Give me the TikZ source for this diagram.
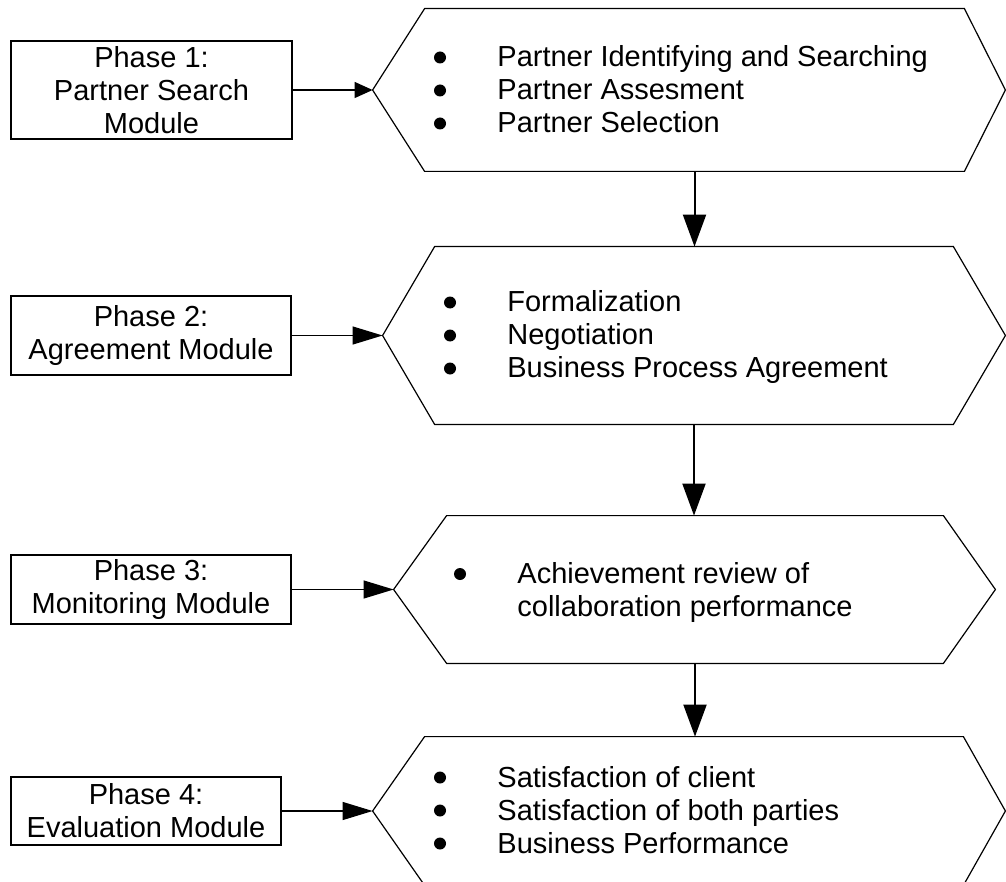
\documentclass[tikz,border=0pt]{standalone}
\usepackage{fontspec}
\setmainfont{Liberation Sans}
\usetikzlibrary{arrows.meta,calc}

% outline of a process hexagon around a body node: #1 body, #2 left tip, #3 right tip inset
\newcommand\hexoutline[3]{%
  \draw[hexline] (#1.north west) -- (#1.north east) -- ($(#1.east)+(#3,0)$)
    -- (#1.south east) -- (#1.south west) -- (#2) -- cycle;}

\begin{document}
\begin{tikzpicture}[x=0.5pt,y=-0.5pt,
  every node/.style={font=\fontsize{14.5}{16.5}\selectfont, inner sep=0pt, text=black},
  phase/.style={draw, line width=0.6pt, rectangle, align=center},
  hexbody/.style={rectangle, draw=none},
  hexline/.style={line width=0.6pt, line join=miter},
  items/.style={anchor=west, align=left},
  itemdot/.style={fill=black},
  feed/.style={draw, line width=0.6pt, -{Triangle[length=15pt,width=9pt]}},
  feedsmall/.style={draw, line width=0.6pt, -{Triangle[length=9pt,width=8pt]}},
  flow/.style={draw, line width=1pt, -{Triangle[length=16pt,width=11.5pt]}},
]
\useasboundingbox (0,0) rectangle (1006,882);
\clip (0,0) rectangle (1006,882);

% phase boxes
\node[phase, minimum width=140.5pt, minimum height=49pt] (b1) at (151.5,90)
  {Phase 1:\\Partner Search\\Module};
\node[phase, minimum width=140pt, minimum height=39.5pt] (b2) at (151,335.5)
  {Phase 2:\\Agreement Module};
\node[phase, minimum width=140pt, minimum height=34.5pt] (b3) at (151,589.5)
  {Phase 3:\\Monitoring Module};
\node[phase, minimum width=135pt, minimum height=34pt] (b4) at (146,811)
  {Phase 4:\\Evaluation Module};

% hexagon bodies and their left tips
\node[hexbody, minimum width=269.5pt, minimum height=81pt] (h1) at (694.5,90) {};
\node[hexbody, minimum width=259pt, minimum height=88.5pt] (h2) at (694,335.5) {};
\node[hexbody, minimum width=248pt, minimum height=73.5pt] (h3) at (695,589.5) {};
\node[hexbody, minimum width=269pt, minimum height=74pt] (h4) at (694,811) {};
\coordinate (t1) at ($(h1.west)+(-52,0)$);
\coordinate (t2) at ($(h2.west)+(-52,0)$);
\coordinate (t3) at ($(h3.west)+(-53,0)$);
\coordinate (t4) at ($(h4.west)+(-52,0)$);

\hexoutline{h1}{t1}{41}
\hexoutline{h2}{t2}{52}
\hexoutline{h3}{t3}{52}
\hexoutline{h4}{t4}{42}

% activity lists
\node[items] (l1) at (497,89) {Partner Identifying and Searching\\
  Partner Assesment\\ Partner Selection};
\node[items] (l2) at (507,337) {Formalization\\ Negotiation\\
  Business Process Agreement};
\node[items] (l3) at (517,592.5) {Achievement review of\\
  collaboration performance};
\node[items] (l4) at (497,810) {Satisfaction of client\\
  Satisfaction of both parties\\ Business Performance};

% list bullets
\fill[itemdot] (440,57.5) circle[radius=3pt];
\fill[itemdot] (440,90.5) circle[radius=3pt];
\fill[itemdot] (440,123.5) circle[radius=3pt];
\fill[itemdot] (450,302.5) circle[radius=3pt];
\fill[itemdot] (450,335.5) circle[radius=3pt];
\fill[itemdot] (450,368.5) circle[radius=3pt];
\fill[itemdot] (460,574) circle[radius=3pt];
\fill[itemdot] (440,777.5) circle[radius=3pt];
\fill[itemdot] (440,810.5) circle[radius=3pt];
\fill[itemdot] (440,843.5) circle[radius=3pt];

% phase box to its activities
\draw[feedsmall] (b1.east) -- (t1);
\draw[feed] (b2.east) -- (t2);
\draw[feed] (b3.east) -- (t3);
\draw[feed] (b4.east) -- (t4);

% sequence of phases
\draw[flow] (h1.south) -- (h1.south |- h2.north);
\draw[flow] (h2.south) -- (h2.south |- h3.north);
\draw[flow] (h3.south) -- (h3.south |- h4.north);
\end{tikzpicture}
\end{document}
